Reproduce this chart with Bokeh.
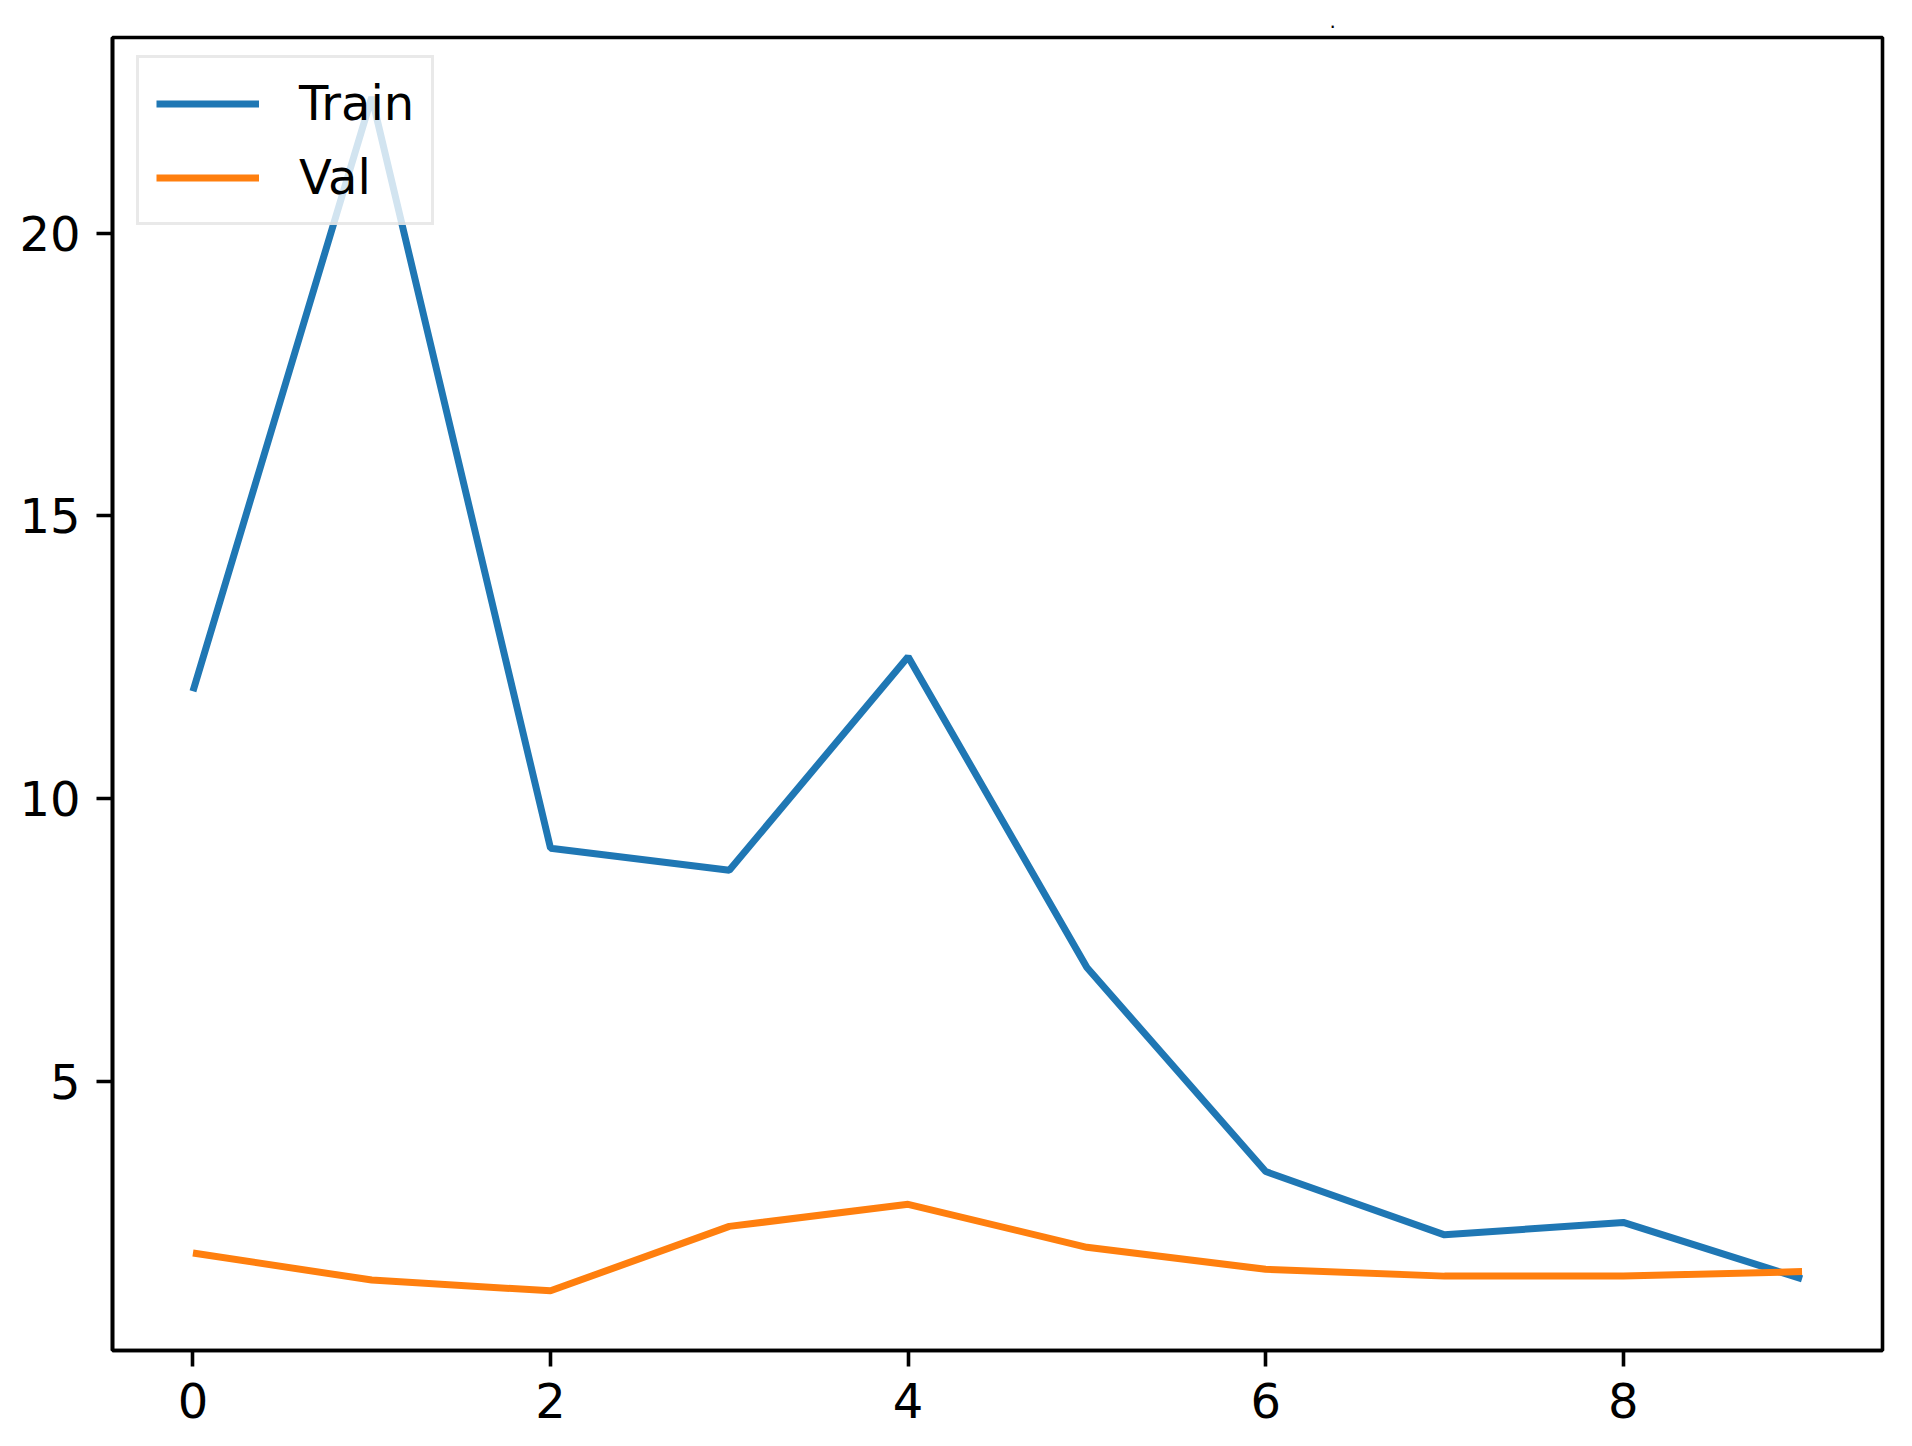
from bokeh.plotting import figure
from bokeh.models import Range1d, FixedTicker, Legend, LegendItem, Title
from bokeh.embed import file_html
from bokeh.resources import INLINE

epochs = [0, 1, 2, 3, 4, 5, 6, 7, 8, 9]
train = [11.9, 22.41, 9.12, 8.73, 12.51, 7.01, 3.40, 2.28, 2.50, 1.50]
val = [1.96, 1.48, 1.29, 2.43, 2.82, 2.06, 1.67, 1.55, 1.55, 1.63]
x_ticks = [0, 2, 4, 6, 8]
y_ticks = [5, 10, 15, 20]
series_names = ["Train", "Val"]
series_colors = ["#1f77b4", "#ff7f0e"]
title_text = "."

FONT = "DejaVu Sans"

xmin, xmax = min(epochs), max(epochs)
xr = xmax - xmin
allv = train + val
ymin, ymax = min(allv), max(allv)
yr = ymax - ymin

p = figure(width=1896, height=1430, output_backend="svg", toolbar_location=None,
           x_range=Range1d(xmin - 0.05 * xr, xmax + 0.05 * xr),
           y_range=Range1d(ymin - 0.05 * yr, ymax + 0.05 * yr),
           min_border_left=112, min_border_right=14, min_border_top=37, min_border_bottom=80)
p.title = Title(text=title_text, align="left", offset=1217, standoff=16,
                vertical_align="top",
                text_font=FONT, text_font_size="20px", text_font_style="normal",
                text_color="black")
p.xgrid.visible = False
p.ygrid.visible = False
p.background_fill_color = "white"
p.border_fill_color = "white"
p.outline_line_color = "black"
p.outline_line_width = 3.6
p.outline_line_alpha = 1.0

r1 = p.line(epochs, train, line_color=series_colors[0], line_width=7)
r2 = p.line(epochs, val, line_color=series_colors[1], line_width=7)

p.xaxis.ticker = FixedTicker(ticks=x_ticks)
p.yaxis.ticker = FixedTicker(ticks=y_ticks)
for ax in (p.xaxis, p.yaxis):
    ax.axis_line_width = 3.6
    ax.axis_line_color = "black"
    ax.major_tick_line_width = 3.6
    ax.major_tick_line_color = "black"
    ax.major_tick_out = 16
    ax.major_tick_in = 0
    ax.minor_tick_line_color = None
    ax.major_label_text_font = FONT
    ax.major_label_text_font_size = "48px"
    ax.major_label_text_color = "black"
    ax.major_label_standoff = 16

legend = Legend(items=[LegendItem(label=series_names[0], renderers=[r1]),
                       LegendItem(label=series_names[1], renderers=[r2])],
                location=(24, 1125), margin=0,
                glyph_width=103, glyph_height=47, label_height=47,
                spacing=18, padding=17, label_standoff=40,
                label_text_font=FONT, label_text_font_size="48px",
                label_text_color="black",
                border_line_color="#d4d4d4", border_line_width=3.6,
                background_fill_color="white", background_fill_alpha=0.8)
p.add_layout(legend, "center")

open("out.html", "w").write(file_html(p, INLINE))
